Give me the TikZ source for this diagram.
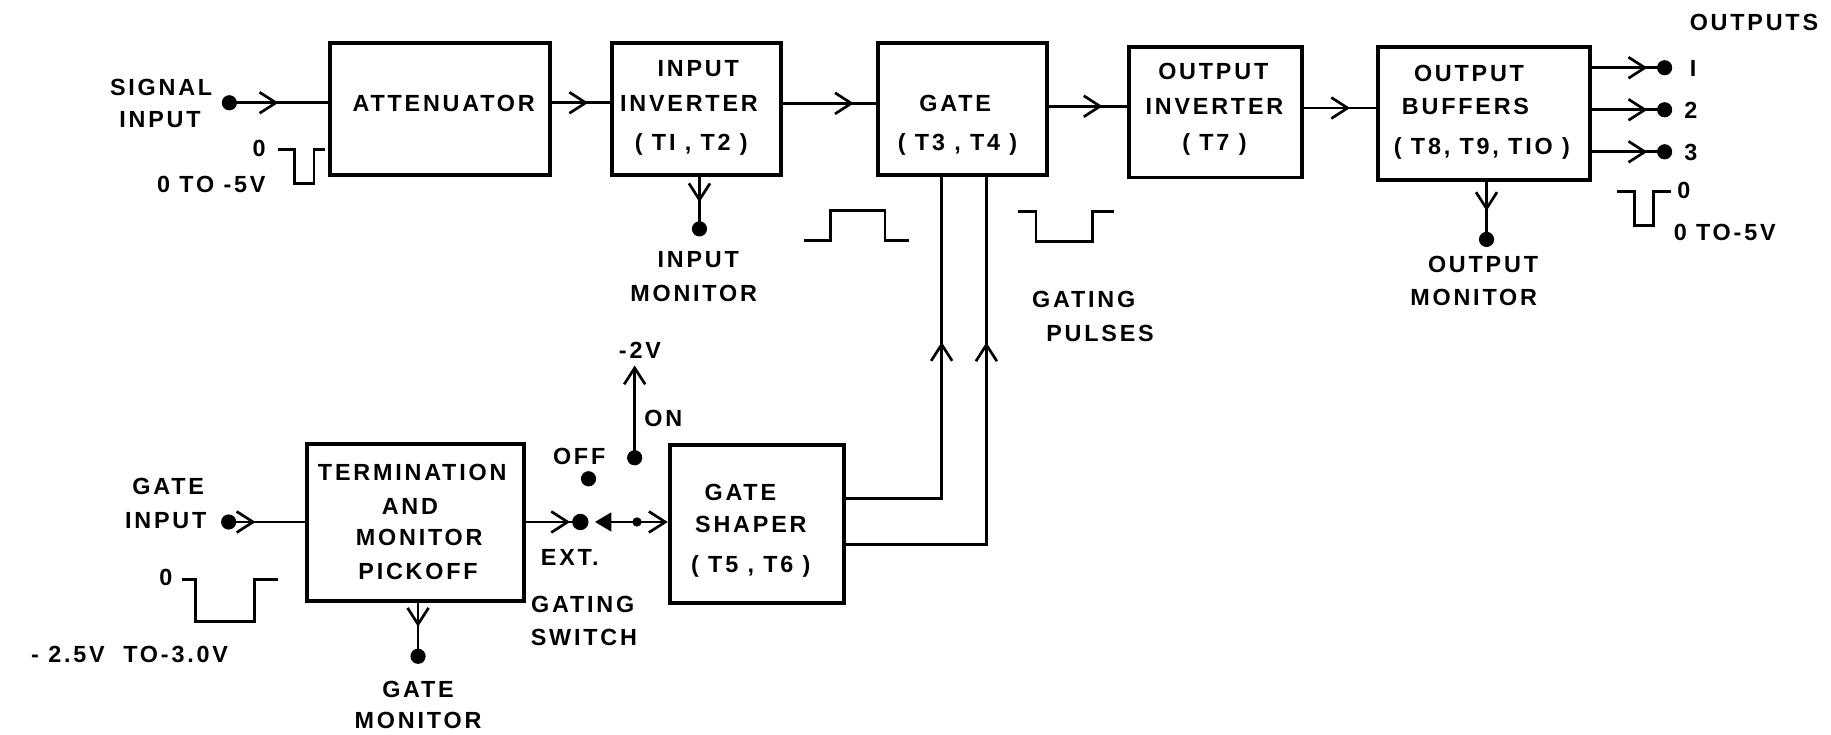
\documentclass[tikz,border=0pt]{standalone}
\usepackage{fontspec}
\setmainfont{Liberation Sans}[LetterSpace=12]
\usetikzlibrary{arrows.meta,decorations.markings}
\tikzset{
  blk/.style={draw,line width=3.4pt,inner sep=0pt},
  txt/.style={inner sep=0pt,text height=14.4pt,text depth=0pt,font=\fontsize{20}{24}\selectfont\bfseries},
  dot/.style={circle,fill,inner sep=0pt,minimum size=13pt},
  conn/.style={line width=2.3pt},
  wave/.style={line width=2.3pt,line join=miter},
  barb/.tip={Straight Barb[length=14pt,width=18pt]},
  midarr/.style={postaction={decorate},decoration={markings,mark=at position #1 with {\arrow{barb}}}},
}
\begin{document}
\begin{tikzpicture}[x=1pt,y=-1pt]
\fill[white] (0,0) rectangle (1568,629);
\useasboundingbox (0,0) rectangle (1568,629);

% boxes
\node[blk,minimum width=188pt,minimum height=113pt] (att) at (377,93.5) {};
\node[blk,minimum width=144.5pt,minimum height=113pt] (inv) at (596.75,93.5) {};
\node[blk,minimum width=145.4pt,minimum height=113pt] (gate) at (824.3,93.5) {};
\node[blk,minimum width=148pt,minimum height=112pt] (oinv) at (1041,96) {};
\node[blk,minimum width=182pt,minimum height=114pt] (buf) at (1271,97) {};
\node[blk,minimum width=186pt,minimum height=135pt] (term) at (355.5,447.5) {};
\node[blk,minimum width=149.3pt,minimum height=135pt] (gs) at (648.15,448.5) {};

% box texts
\node[txt] (attA) at (380,88) {ATTENUATOR};
\node[txt] (invA) at (598,58) {INPUT};
\node[txt] (invB) at (590,88.5) {INVERTER};
\node[txt] (invC) at (592,122) {( TI , T2 )};
\node[txt] (gateA) at (818,88.5) {GATE};
\node[txt] (gateB) at (820,122) {( T3 , T4 )};
\node[txt] (oinvA) at (1039,61) {OUTPUT};
\node[txt] (oinvB) at (1040,91) {INVERTER};
\node[txt] (oinvC) at (1040,122) {( T7 )};
\node[txt] (bufA) at (1258,63) {OUTPUT};
\node[txt] (bufB) at (1255,91) {BUFFERS};
\node[txt] (bufC) at (1269,125) {( T8, T9, TIO )};
\node[txt] (termA) at (353,404) {TERMINATION};
\node[txt] (termB) at (351,433) {AND};
\node[txt] (termC) at (359,460) {MONITOR};
\node[txt] (termD) at (358,489) {PICKOFF};
\node[txt] (gsA) at (634,421) {GATE};
\node[txt] (gsB) at (643,449) {SHAPER};
\node[txt] (gsC) at (643,483) {( T5 , T6 )};

% dots
\node[dot] (sigdot) at (196.4,88) {};
\node[dot] (inmon) at (599,196) {};
\node[dot] (out1) at (1425.5,58) {};
\node[dot] (out2) at (1425.5,94) {};
\node[dot] (out3) at (1425.5,130) {};
\node[dot] (bufmon) at (1273,205) {};
\node[dot] (gindot) at (195.8,447) {};
\node[dot] (gmon) at (358,562) {};
\node[dot,minimum size=14pt] (extdot) at (497,447) {};
\node[dot] (offdot) at (504,410) {};
\node[dot] (ondot) at (543.5,392) {};

% connectors
\coordinate (rA) at (0,88.5);
\coordinate (rB) at (0,91);
\coordinate (rC) at (0,92.5);
\draw[conn,midarr=42pt] (sigdot.center) -- (sigdot.center -| att.west);
\draw[conn,midarr=31pt] (att.east |- sigdot) -- (inv.west |- sigdot);
\draw[conn,midarr=60.5pt] (inv.east |- rA) -- (gate.west |- rA);
\draw[conn,midarr=45.5pt] (gate.east |- rB) -- (oinv.west |- rB);
\draw[conn,midarr=39.5pt] (oinv.east |- rC) -- (buf.west |- rC);
\foreach \o in {out1,out2,out3} \draw[conn,midarr=47pt] (buf.east |- \o) -- (\o.center);
\draw[conn,midarr=21.5pt] (inv.south -| inmon) -- (inmon.center);
\draw[conn,midarr=25pt] (buf.south -| bufmon) -- (bufmon.center);
\coordinate (g1) at (806.4,427);
\coordinate (g2) at (844.7,466);
\draw[conn,midarr=216pt] (gs.east |- g1) -| (gate.south -| g1);
\draw[conn,midarr=293pt] (gs.east |- g2) -| (gate.south -| g2);
\draw[conn,midarr=23pt] (gindot.center) -- (gindot.center -| term.west);
\draw[conn,midarr=38pt] (term.east |- extdot) -- (extdot.center);
\draw[conn,midarr=20pt] (term.south -| gmon) -- (gmon.center);
\coordinate (swtip) at (509.5,447);
\draw[conn,{Triangle[length=14pt,width=16pt]}-barb] (swtip) -- (gs.west |- swtip);
\node[dot,minimum size=8pt] (pivot) at (545.5,447) {};
\coordinate (m2v) at (543.5,313);
\draw[conn,-barb] (ondot.center) -- (m2v);

% waveforms
\draw[wave] (238,128) -- (252,128) -- (252,157) -- (269,157) -- (269,128) -- (278,128);
\draw[wave] (688.4,206) -- (711.3,206) -- (711.3,180) -- (757.9,180) -- (757.9,206) -- (778.5,206);
\draw[wave] (872,181) -- (887.3,181) -- (887.3,207) -- (935.8,207) -- (935.8,181) -- (953.8,181);
\draw[wave] (1384.6,164) -- (1399.5,164) -- (1399.5,193) -- (1416.2,193) -- (1416.2,164) -- (1431,164);
\draw[wave] (156,496) -- (167.6,496) -- (167.6,532) -- (217.8,532) -- (217.8,496) -- (238,496);

% labels
\node[txt] (l1) at (138,75) {SIGNAL};
\node[txt] (l2) at (137,102) {INPUT};
\node[txt] (l3) at (222,127) {0};
\node[txt] (l4) at (181,158) {0 TO -5V};
\node[txt] (l5) at (598,222) {INPUT};
\node[txt] (l6) at (594,251) {MONITOR};
\node[txt] (l7) at (1502,19) {OUTPUTS};
\node[txt] (l8) at (1450,58) {I};
\node[txt] (l9) at (1448,94) {2};
\node[txt] (l10) at (1448,130) {3};
\node[txt] (l11) at (1270,226) {OUTPUT};
\node[txt] (l12) at (1262,254) {MONITOR};
\node[txt] (l13) at (1442,163) {0};
\node[txt] (l14) at (1477,199) {0 TO-5V};
\node[txt] (l15) at (144,416) {GATE};
\node[txt] (l16) at (142,445) {INPUT};
\node[txt] (l17) at (142,494) {0};
\node[txt] (l18) at (111,560) {- 2.5V\ \ TO-3.0V};
\node[txt] (l19) at (358,590) {GATE};
\node[txt] (l20) at (358,617) {MONITOR};
\node[txt] (l21) at (496,391) {OFF};
\node[txt] (l22) at (568,358) {ON};
\node[txt] (l23) at (548,300) {-2V};
\node[txt] (l24) at (488,477) {EXT.};
\node[txt] (l25) at (499,517) {GATING};
\node[txt] (l26) at (500,546) {SWITCH};
\node[txt] (l27) at (928,256) {GATING};
\node[txt] (l28) at (942,285) {PULSES};
\end{tikzpicture}
\end{document}
